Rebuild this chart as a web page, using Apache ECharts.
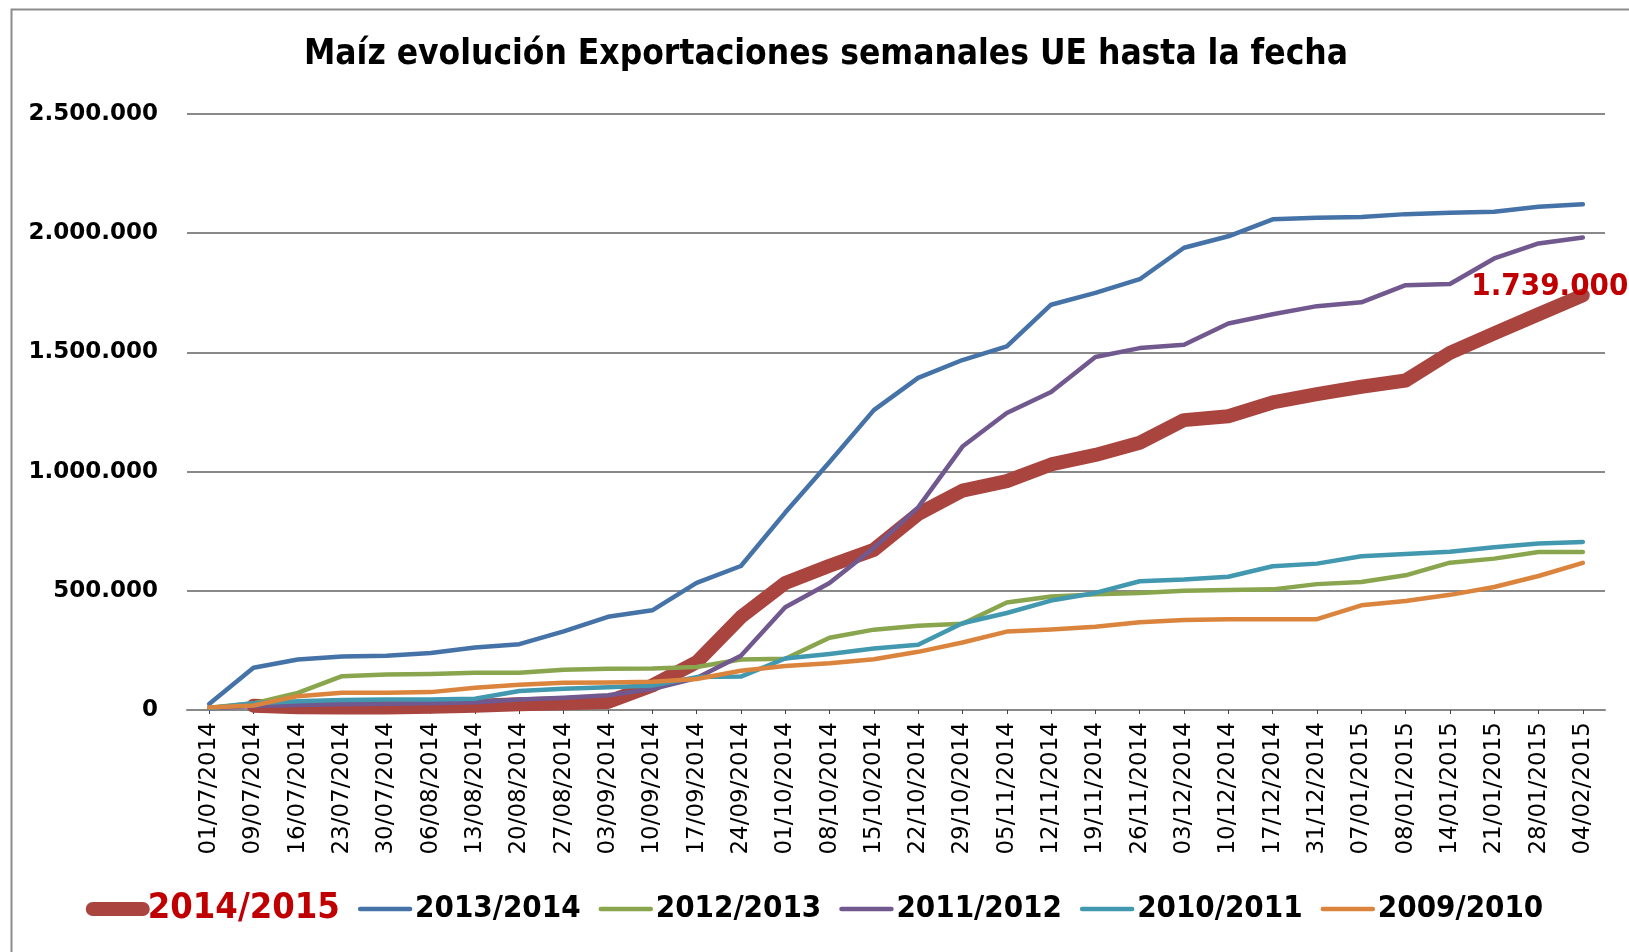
<!DOCTYPE html>
<html>
<head>
<meta charset="utf-8">
<title>Maíz evolución Exportaciones semanales UE</title>
<script src="https://cdn.jsdelivr.net/npm/echarts@6/dist/echarts.min.js"></script>
<style>
  html, body { margin: 0; padding: 0; background: #fff; }
  #chart { width: 1629px; height: 952px; }
</style>
</head>
<body>
<div id="chart"></div>
<script>
// Weekly cumulative EU maize exports (tonnes), by marketing year
const weeks = ['01/07/2014','09/07/2014','16/07/2014','23/07/2014','30/07/2014','06/08/2014','13/08/2014','20/08/2014',
  '27/08/2014','03/09/2014','10/09/2014','17/09/2014','24/09/2014','01/10/2014','08/10/2014','15/10/2014',
  '22/10/2014','29/10/2014','05/11/2014','12/11/2014','19/11/2014','26/11/2014','03/12/2014','10/12/2014',
  '17/12/2014','31/12/2014','07/01/2015','08/01/2015','14/01/2015','21/01/2015','28/01/2015','04/02/2015'];

const y2014_2015 = [null, 18000, 12000, 10000, 10000, 14000, 18000, 24000, 28000, 34000, 103000, 200000,
  390000, 533000, 605000, 672000, 822000, 920000, 960000, 1030000, 1070000, 1121000, 1216000, 1232000,
  1290000, 1325000, 1356000, 1382000, 1498000, 1580000, 1660000, 1739000];
const y2013_2014 = [25000, 177000, 212000, 224000, 228000, 239000, 262000, 276000, 330000, 391000, 418000, 533000,
  604000, 828000, 1040000, 1258000, 1393000, 1468000, 1525000, 1700000, 1750000, 1807000, 1939000, 1987000,
  2058000, 2065000, 2068000, 2080000, 2086000, 2090000, 2111000, 2121000];
const y2012_2013 = [10000, 28000, 72000, 142000, 149000, 151000, 156000, 156000, 169000, 173000, 174000, 180000,
  212000, 215000, 303000, 337000, 353000, 362000, 451000, 476000, 485000, 491000, 500000, 503000,
  506000, 528000, 537000, 565000, 618000, 635000, 663000, 663000];
const y2011_2012 = [7000, 17000, 21000, 24000, 26000, 28000, 33000, 44000, 51000, 62000, 88000, 134000,
  228000, 431000, 533000, 680000, 850000, 1105000, 1246000, 1334000, 1481000, 1518000, 1532000, 1621000,
  1660000, 1694000, 1710000, 1782000, 1787000, 1894000, 1957000, 1982000];
const y2010_2011 = [7000, 28000, 37000, 42000, 44000, 44000, 47000, 80000, 89000, 95000, 103000, 138000,
  140000, 216000, 235000, 258000, 274000, 364000, 407000, 459000, 491000, 540000, 547000, 559000,
  603000, 614000, 645000, 654000, 664000, 683000, 698000, 705000];
const y2009_2010 = [10000, 19000, 58000, 72000, 72000, 75000, 93000, 106000, 114000, 115000, 119000, 130000,
  165000, 185000, 196000, 213000, 244000, 283000, 329000, 338000, 349000, 368000, 378000, 381000,
  381000, 381000, 439000, 457000, 483000, 516000, 562000, 617000];

const yTicks = [0, 500000, 1000000, 1500000, 2000000, 2500000];

const seasons = [
  { name: '2014/2015', data: y2014_2015, color: '#A9443F', width: 14 },
  { name: '2013/2014', data: y2013_2014, color: '#4572A7', width: 4.5 },
  { name: '2012/2013', data: y2012_2013, color: '#89A54E', width: 4.5 },
  { name: '2011/2012', data: y2011_2012, color: '#71588F', width: 4.5 },
  { name: '2010/2011', data: y2010_2011, color: '#4198AF', width: 4.5 },
  { name: '2009/2010', data: y2009_2010, color: '#DB843D', width: 4.5 }
];

const NARROW = "'Liberation Sans Narrow', 'DejaVu Sans Condensed', 'Liberation Sans', sans-serif";
const WIDE = "'DejaVu Sans', Verdana, sans-serif";

// Spanish thousands separator: 1739000 -> 1.739.000
function fmt(v) {
  return String(Math.round(v)).replace(/\B(?=(\d{3})+(?!\d))/g, '.');
}

const chart = echarts.init(document.getElementById('chart'), null, { renderer: 'canvas' });

const series = seasons.map(function (s, i) {
  const item = {
    name: s.name,
    type: 'line',
    data: s.data,
    symbol: 'none',
    smooth: false,
    connectNulls: false,
    color: s.color,
    lineStyle: { color: s.color, width: s.width, cap: 'round', join: 'round' },
    emphasis: { disabled: true },
    z: 2 + i
  };
  if (i === 0) {
    const last = s.data.length - 1;
    item.markPoint = {
      symbol: 'circle',
      symbolSize: 1,
      itemStyle: { color: 'rgba(0,0,0,0)' },
      silent: true,
      data: [{ coord: [weeks[last], s.data[last]], value: s.data[last] }],
      label: {
        show: true,
        position: 'top',
        distance: 0,
        offset: [-33, 8],
        formatter: function (p) { return fmt(p.value); },
        color: '#C00000',
        fontFamily: NARROW,
        fontWeight: 'bold',
        fontSize: 31
      }
    };
  }
  return item;
});

chart.setOption({
  backgroundColor: '#ffffff',
  animation: false,
  graphic: [{
    type: 'rect',
    left: 9, top: 7,
    shape: { width: 1700, height: 1100 },
    style: { fill: 'none', stroke: '#8c8c8c', lineWidth: 2 },
    silent: true,
    z: -10
  }],
  title: {
    text: 'Maíz evolución Exportaciones semanales UE hasta la fecha',
    left: 821,
    top: 32,
    textAlign: 'center',
    textStyle: { fontFamily: NARROW, fontWeight: 'bold', fontSize: 35, color: '#000' }
  },
  grid: { left: 187, right: 24, top: 114, bottom: 242, containLabel: false },
  legend: {
    top: 886,
    left: 'center',
    itemWidth: 50,
    itemHeight: 18,
    itemGap: 18,
    selectedMode: false,
    lineStyle: { width: 'inherit', cap: 'round' },
    itemStyle: { color: 'rgba(0,0,0,0)', borderWidth: 0, opacity: 0 },
    formatter: function (name) {
      return name === '2014/2015' ? '{r|' + name + '}' : '{k|' + name + '}';
    },
    textStyle: {
      rich: {
        r: { color: '#C00000', fontFamily: NARROW, fontWeight: 'bold', fontSize: 36 },
        k: { color: '#000000', fontFamily: NARROW, fontWeight: 'bold', fontSize: 31 }
      }
    },
    data: seasons.map(function (s) { return s.name; })
  },
  xAxis: {
    type: 'category',
    data: weeks,
    boundaryGap: true,
    axisLine: { show: true, lineStyle: { color: '#898989', width: 2 } },
    axisTick: { show: true, alignWithLabel: true, length: 4, lineStyle: { color: '#444', width: 1 } },
    axisLabel: {
      rotate: 90,
      interval: 0,
      margin: 12,
      color: '#000',
      fontFamily: WIDE,
      fontSize: 23
    },
    splitLine: { show: false }
  },
  yAxis: {
    type: 'value',
    min: yTicks[0],
    max: yTicks[yTicks.length - 1],
    interval: yTicks[1] - yTicks[0],
    axisLine: { show: false },
    axisTick: { show: false },
    axisLabel: {
      margin: 29,
      color: '#000',
      fontFamily: WIDE,
      fontWeight: 'bold',
      fontSize: 23,
      formatter: function (v) { return fmt(v); }
    },
    splitLine: { show: true, lineStyle: { color: '#898989', width: 2 } }
  },
  series: series
});
</script>
</body>
</html>
